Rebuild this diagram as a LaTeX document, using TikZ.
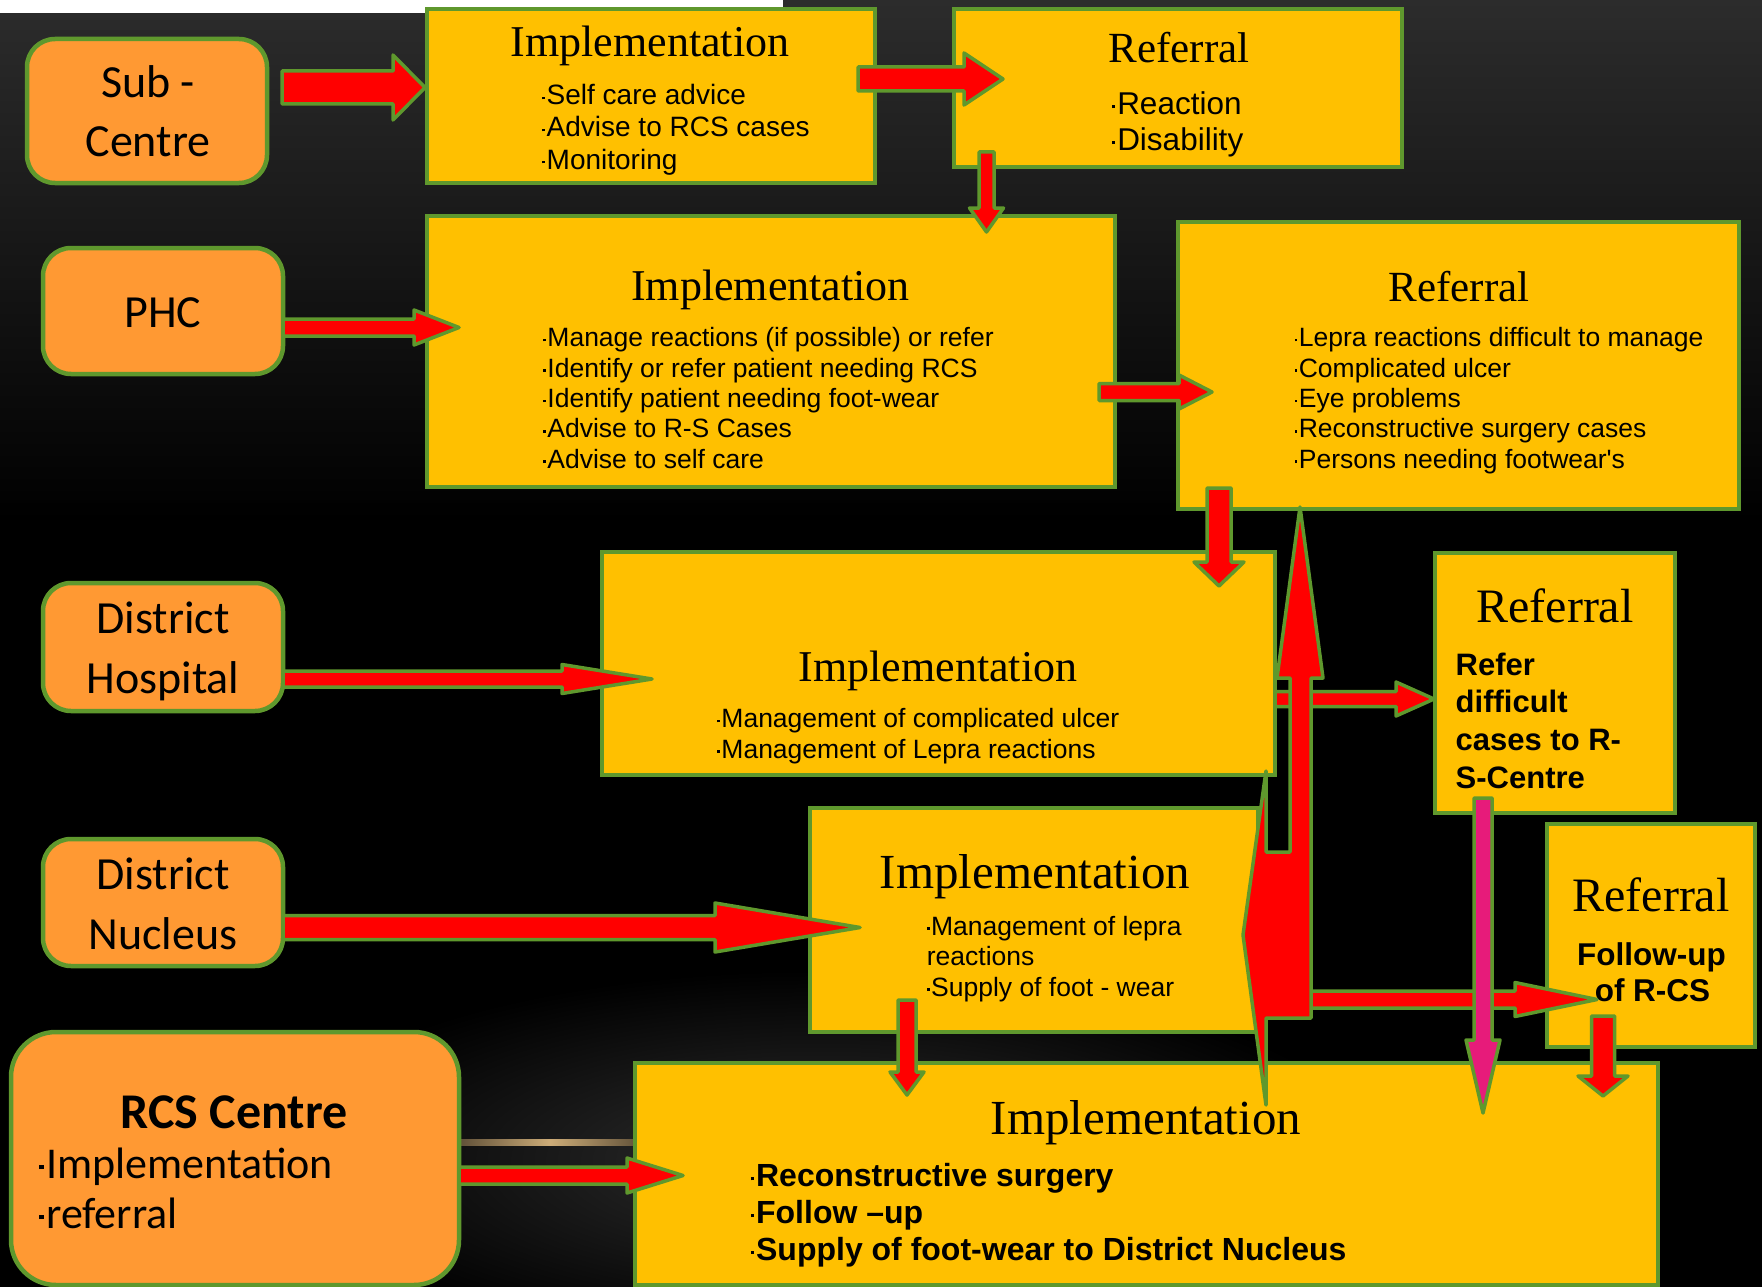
\documentclass[tikz,border=0pt]{standalone}
\usepackage{fontspec}
\setmainfont{Liberation Sans}
\newfontfamily\serifttl{Liberation Serif}
\newfontfamily\calib{Carlito}
\usetikzlibrary{calc}
\definecolor{bord}{RGB}{95,152,45}
\definecolor{boxy}{RGB}{255,192,0}
\definecolor{boxo}{RGB}{255,153,51}
\definecolor{arrred}{RGB}{255,0,0}
\definecolor{arrmag}{RGB}{231,27,122}
\definecolor{bgtop}{RGB}{44,44,44}
\definecolor{glow}{RGB}{48,48,48}
\definecolor{streak}{RGB}{205,172,120}
\newcommand\bul{\rule[.2em]{.1em}{.1em}\hspace{.06em}}
\tikzset{
  ybox/.style={draw=bord, line width=4.5pt, fill=boxy, inner sep=0pt, outer sep=0pt, anchor=north west},
  obox/.style={draw=bord, line width=4.5pt, fill=boxo, rounded corners=28pt, inner sep=0pt, outer sep=0pt, anchor=north west},
  barrow/.style={draw=bord, line width=3.5pt, fill=arrred, line join=round},
  marrow/.style={draw=bord, line width=3.5pt, fill=arrmag, line join=round},
  ttl/.style={anchor=base, inner sep=0pt, font=\serifttl\fontsize{#1}{#1}\selectfont},
  item/.style={anchor=base west, inner sep=0pt, font=\fontsize{#1}{#1}\selectfont},
  bitem/.style={anchor=base west, inner sep=0pt, font=\bfseries\fontsize{#1}{#1}\selectfont},
  bcitem/.style={anchor=base, inner sep=0pt, font=\bfseries\fontsize{#1}{#1}\selectfont},
  ltxt/.style={anchor=base, inner sep=0pt, font=\calib\fontsize{#1}{#1}\selectfont},
  lbtxt/.style={anchor=base, inner sep=0pt, font=\calib\bfseries\fontsize{#1}{#1}\selectfont},
  lltxt/.style={anchor=base west, inner sep=0pt, font=\calib\fontsize{#1}{#1}\selectfont},
}
% horizontal block arrow: [style]{start}{tip}{shaft half}{head half}{head length}
\newcommand\harr[6][barrow]{%
  \draw[#1] let \p1=(#2), \p2=(#3) in
   (\x1,\y2+#4pt) -- (\x2-#6pt,\y2+#4pt) -- (\x2-#6pt,\y2+#5pt) -- (\x2,\y2)
   -- (\x2-#6pt,\y2-#5pt) -- (\x2-#6pt,\y2-#4pt) -- (\x1,\y2-#4pt) -- cycle;}
% downward block arrow
\newcommand\varr[6][barrow]{%
  \draw[#1] let \p1=(#2), \p2=(#3) in
   (\x2-#4pt,\y1) -- (\x2-#4pt,\y2+#6pt) -- (\x2-#5pt,\y2+#6pt) -- (\x2,\y2)
   -- (\x2+#5pt,\y2+#6pt) -- (\x2+#4pt,\y2+#6pt) -- (\x2+#4pt,\y1) -- cycle;}
\begin{document}
\begin{tikzpicture}[x=1pt,y=-1pt]
\useasboundingbox (0,0) rectangle (1762,1287);
% background
\fill[black] (0,0) rectangle (1762,1287);
\shade[top color=bgtop, bottom color=black] (0,0) rectangle (1762,520);
\shade[inner color=glow, outer color=black] (820,1160) ellipse [x radius=560, y radius=190];
\shade[left color=black, right color=black, middle color=streak] (380,1139) rectangle (720,1145);
\fill[white] (0,0) rectangle (783,13);

% boxes
\node[obox, minimum width=240pt, minimum height=144pt] (sub) at (27,39) {};
\node[ybox, minimum width=448pt, minimum height=174pt] (impl1) at (427,9) {};
\node[ybox, minimum width=448pt, minimum height=158pt] (ref1) at (954,9) {};
\node[obox, minimum width=240pt, minimum height=126pt] (phc) at (43,248) {};
\node[ybox, minimum width=688pt, minimum height=271pt] (impl2) at (427,216) {};
\node[ybox, minimum width=561pt, minimum height=287pt] (ref2) at (1178,222) {};
\node[obox, minimum width=240pt, minimum height=128pt] (dh) at (43,583) {};
\node[ybox, minimum width=673pt, minimum height=223pt] (impl3) at (602,552) {};
\node[ybox, minimum width=240pt, minimum height=260pt] (ref3) at (1435,553) {};
\node[obox, minimum width=240pt, minimum height=127pt] (dn) at (43,839) {};
\node[ybox, minimum width=448pt, minimum height=224pt] (impl4) at (810,808) {};
\node[ybox, minimum width=208pt, minimum height=223pt] (ref4) at (1547,824) {};
\node[obox, rounded corners=45pt, minimum width=448pt, minimum height=253pt] (rcs) at (11,1032) {};
\node[ybox, minimum width=1023pt, minimum height=222pt] (impl5) at (635,1063) {};

% left texts
\node[ltxt=46] (subT1) at (148,98) {Sub -};
\node[ltxt=46] (subT2) at (148,156.7) {Centre};
\node[ltxt=46] (phcT) at (163,327.5) {PHC};
\node[ltxt=46] (dhT1) at (163,633) {District};
\node[ltxt=46] (dhT2) at (163,693) {Hospital};
\node[ltxt=46] (dnT1) at (163,889) {District};
\node[ltxt=46] (dnT2) at (163,949) {Nucleus};
\node[lbtxt=50] (rcsT) at (234,1128) {RCS Centre};
\node[lltxt=44] (rcsA) at (39,1178) {\bul Implementation};
\node[lltxt=44] (rcsB) at (39,1228) {\bul referral};

% titles
\node[ttl=44] (impl1T) at (650,57) {Implementation};
\node[ttl=43] (ref1T) at (1179,62.6) {Referral};
\node[ttl=44] (impl2T) at (770.5,300) {Implementation};
\node[ttl=43] (ref2T) at (1459,301.7) {Referral};
\node[ttl=44] (impl3T) at (938,681) {Implementation};
\node[ttl=48] (ref3T) at (1555,622.6) {Referral};
\node[ttl=49] (impl4T) at (1035,888) {Implementation};
\node[ttl=48] (ref4T) at (1651,911.7) {Referral};
\node[ttl=49] (impl5T) at (1146,1134) {Implementation};

% items
\foreach \t [count=\i from 0] in {{Self care advice},{Advise to RCS cases},{Monitoring}}
  \node[item=28] (i1-\i) at (542,{105+32*\i}) {\bul\t};
\foreach \t [count=\i from 0] in {{Reaction},{Disability}}
  \node[item=31.5] (r1-\i) at (1112,{114.5+36*\i}) {\bul\t};
\foreach \t [count=\i from 0] in {{Manage reactions (if possible) or refer},{Identify or refer patient needing RCS},{Identify patient needing foot-wear},{Advise to R-S Cases},{Advise to self care}}
  \node[item=26.5] (i2-\i) at (543,{346.7+30.4*\i}) {\bul\t};
\foreach \t [count=\i from 0] in {{Lepra reactions difficult to manage},{Complicated ulcer},{Eye problems},{Reconstructive surgery cases},{Persons needing footwear\textquotesingle s}}
  \node[item=26.5] (r2-\i) at (1294.4,{346.7+30.4*\i}) {\bul\t};
\foreach \t [count=\i from 0] in {{Management of complicated ulcer},{Management of Lepra reactions}}
  \node[item=26.5] (i3-\i) at (717,{727.6+30.4*\i}) {\bul\t};
\foreach \t [count=\i from 0] in {{Refer},{difficult},{cases to R-},{S-Centre}}
  \node[bitem=31] (r3-\i) at (1455.5,{675+37.9*\i}) {\t};
\node[item=26.5] (i4-0) at (926.7,935) {\bul Management of lepra};
\node[item=26.5] (i4-1) at (926.7,965.5) {reactions};
\node[item=26.5] (i4-2) at (926.7,996) {\bul Supply of foot - wear};
\node[bcitem=31.5] (r4-0) at (1651.5,965) {Follow-up};
\node[bcitem=31.5] (r4-1) at (1652.5,1001.7) {of R-CS};
\foreach \t [count=\i from 0] in {{Reconstructive surgery},{Follow --up},{Supply of foot-wear to District Nucleus}}
  \node[bitem=32] (i5-\i) at (750.8,{1186.7+36.7*\i}) {\bul\t};

% arrow end points
\coordinate (sA) at ($(sub.east)+(15,0)$);
\coordinate (tA) at (425,87.5);
\coordinate (sB) at (858,79);
\coordinate (tB) at (1003,79);
\coordinate (sC) at (986.5,152);
\coordinate (tC) at (986.5,232);
\coordinate (tD) at (459,327.5);
\coordinate (sE) at (1099,392);
\coordinate (tE) at (1212,392);
\coordinate (sF) at (1219,488);
\coordinate (tF) at (1219,586);
\coordinate (tG) at (652,679);
\coordinate (tH) at (1434,699);
\coordinate (tI) at (860,927.5);
\coordinate (sJ) at (907,1000);
\coordinate (tJ) at (907,1095);
\coordinate (tK) at (683,1175.5);
\coordinate (sM) at (1311,999.5);
\coordinate (tM) at (1597,999.5);
\coordinate (sN) at (1483,798);
\coordinate (tN) at (1483,1113);
\coordinate (sO) at (1603,1016);
\coordinate (tO) at (1603,1096);

% arrows
\harr{sA}{tA}{16.5}{32.5}{32}
\harr{sB}{tB}{12}{26}{39}
\varr{sC}{tC}{7.5}{17}{24}
\harr{phc.east}{tD}{8.5}{17.5}{45}
\harr{sE}{tE}{8.5}{17}{33}
\varr{sF}{tF}{12}{25}{24}
\harr{dh.east}{tG}{8}{14.5}{90}
\harr{impl3.east}{tH}{7.5}{17}{38}
\harr{dn.east}{tI}{12}{24.5}{145}
\varr{sJ}{tJ}{9}{17}{23}
\harr{rcs.east}{tK}{8.5}{17.5}{56}
\harr{sM}{tM}{8.5}{17}{82}
\varr{sO}{tO}{11.5}{25}{20}
% big left-up arrow
\draw[barrow] (1266,771) -- (1266,852) -- (1290,852) -- (1290,678) -- (1277,678)
  -- (1300,507) -- (1323,678) -- (1311,678) -- (1311,1018) -- (1266,1018)
  -- (1266,1105) -- (1243,935) -- cycle;
\varr[marrow]{sN}{tN}{9}{17}{73}
\end{tikzpicture}
\end{document}
